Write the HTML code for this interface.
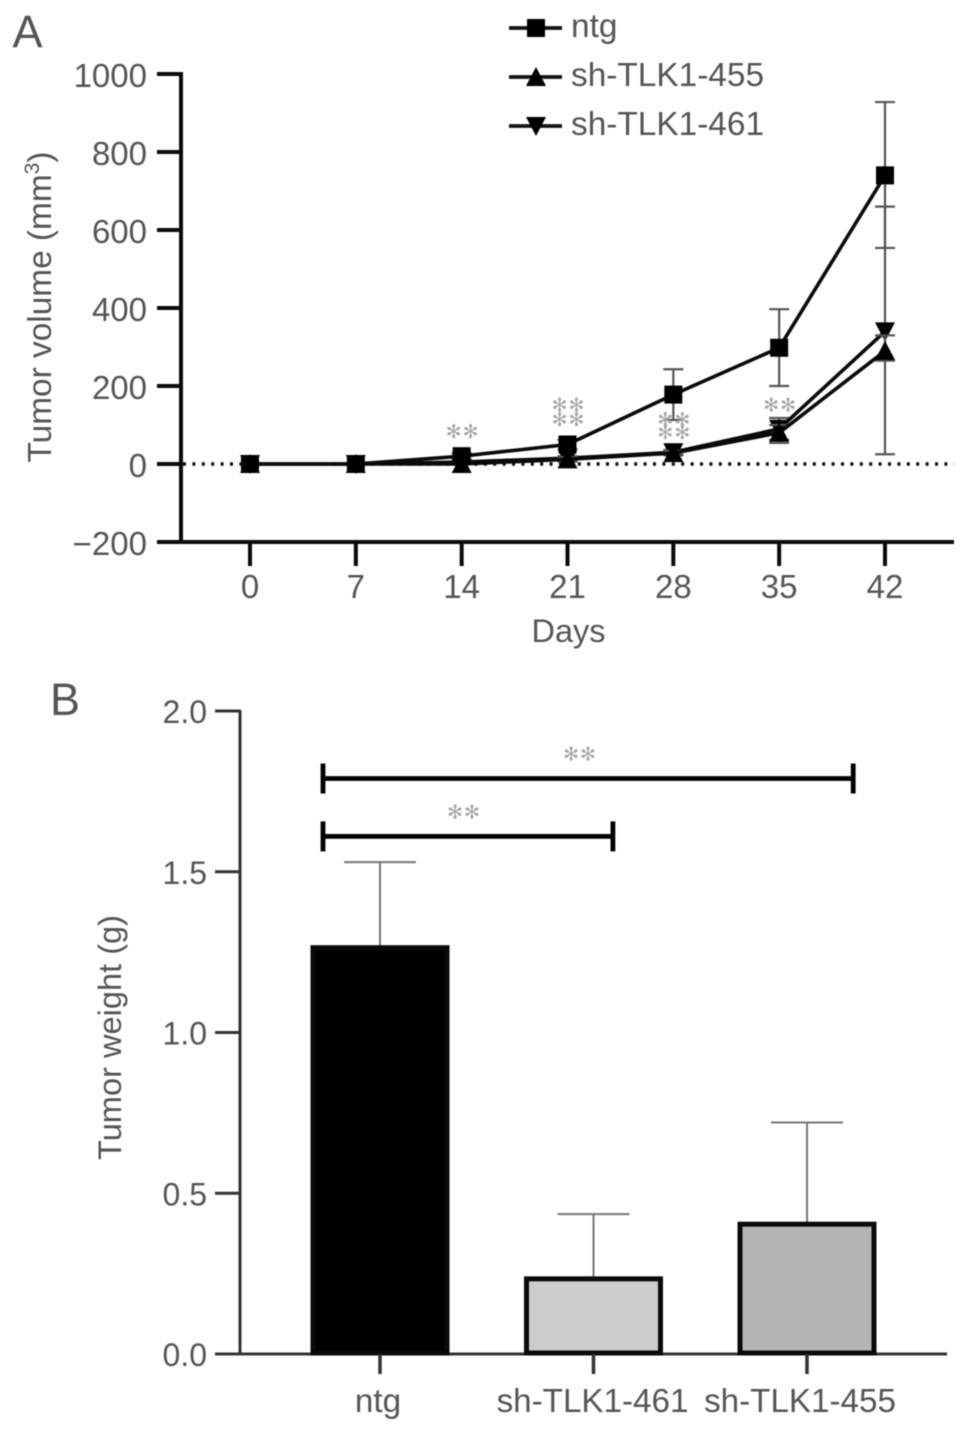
<!DOCTYPE html>
<html>
<head>
<meta charset="utf-8">
<style>
html,body{margin:0;padding:0;background:#fff;}
svg{display:block;filter:blur(0.55px);}
text{font-family:"Liberation Sans",sans-serif;fill:#555555;}
.star{font-family:"DejaVu Sans",sans-serif;fill:#a6a6a6;}
</style>
</head>
<body>
<svg id="chart" xmlns="http://www.w3.org/2000/svg" width="969" height="1433" viewBox="0 0 969 1433">
  <text x="12.5" y="47" font-size="45">A</text>
  <text x="50" y="715" font-size="45">B</text>
  <text transform="translate(51,307) rotate(-90)" text-anchor="middle" font-size="33.4">Tumor volume (mm<tspan font-size="21" dy="-12">3</tspan><tspan dy="12">)</tspan></text>
  <text x="568.5" y="642" text-anchor="middle" font-size="32.5">Days</text>
  <text transform="translate(121,1037.5) rotate(-90)" text-anchor="middle" font-size="32.6">Tumor weight (g)</text>
  <g id="panelA"></g>
  <g id="panelB"></g>
</svg>
<script>
// Panel A data
const days = [0, 7, 14, 21, 28, 35, 42];
const volumeTicks = [-200, 0, 200, 400, 600, 800, 1000];
const ntgMean = [0, 0, 20, 50, 178, 298, 740];
const ntgUpper = [0, 0, 28, 62, 243, 397, 928];
const ntgLower = [0, 0, 12, 38, 113, 200, 554];
const sh455Mean = [0, 0, 0, 12, 28, 80, 290];
const sh455Upper = [0, 0, 4, 18, 34, 100, 330];
const sh455Lower = [0, 0, 0, 6, 22, 54, 265];
const sh461Mean = [0, 0, 5, 15, 30, 90, 340];
const sh461Upper = [0, 0, 9, 20, 36, 118, 660];
const sh461Lower = [0, 0, 1, 10, 24, 62, 25];
const seriesNames = ['ntg', 'sh-TLK1-455', 'sh-TLK1-461'];
const volumeStarDays = [14, 21, 21, 28, 28, 35];
const volumeStarValues = [85, 152, 116, 116, 82, 152];

// Panel B data
const groups = ['ntg', 'sh-TLK1-461', 'sh-TLK1-455'];
const weights = [1.27, 0.24, 0.41];
const weightErrTop = [1.53, 0.435, 0.72];
const weightTicks = ['0.0', '0.5', '1.0', '1.5', '2.0'];
const barFills = ['#000000', '#cccccc', '#b4b4b4'];
const bracketLevels = [1.79, 1.61];
const bracketEnds = [2.2, 1.203];

const NS = 'http://www.w3.org/2000/svg';
const panelA = document.getElementById('panelA');
const panelB = document.getElementById('panelB');

function make(parent, tag, props, content) {
  const e = document.createElementNS(NS, tag);
  for (const k in props) e.setAttribute(k, props[k]);
  if (content !== undefined) e.textContent = content;
  parent.appendChild(e);
  return e;
}

const xA = d => 250 + (d / 42) * 635;
const yA = v => 464 - v * 0.39;
const yB = v => 1354 - v * 321.5;
const xB = i => 380 + i * 213.5;
const xBracket = u => 323 + u * 241;
const labelShiftB = [-2, -1, -7];

// Panel A axes
let el;
el = make(panelA, 'line', {x1: 179, x2: 954, y1: yA(-200), y2: yA(-200), stroke: '#0a0a0a', 'stroke-width': 4});


el = make(panelA, 'line', {x1: 181, x2: 181, y1: yA(1000) - 2, y2: yA(-200) + 2, stroke: '#0a0a0a', 'stroke-width': 4});


el = make(panelA, 'line', {x1: 183, x2: 954, y1: yA(0), y2: yA(0), stroke: '#111', 'stroke-width': 3.4, 'stroke-dasharray': '3 6.4'});



volumeTicks.forEach(t => {
  const tick = make(panelA, 'line', {x1: 157, x2: 181, y1: yA(t), y2: yA(t), stroke: '#0a0a0a', 'stroke-width': 4});
  
  
  const label = make(panelA, 'text', {x: 147, y: yA(t) + 13, 'text-anchor': 'end', 'font-size': 33}, t < 0 ? '\u2212' + (-t) : String(t));
  
  
});

days.forEach(d => {
  const tick = make(panelA, 'line', {x1: xA(d), x2: xA(d), y1: yA(-200), y2: 566, stroke: '#0a0a0a', 'stroke-width': 4});
  
  
  const label = make(panelA, 'text', {x: xA(d), y: 598, 'text-anchor': 'middle', 'font-size': 33}, String(d));
  
  
});

function marker(parent, kind, cx, cy) {
  if (kind === 0) {
    return make(parent, 'rect', {x: cx - 9, y: cy - 9, width: 18, height: 18, fill: '#000'});
  }
  if (kind === 1) {
    return make(parent, 'polygon', {points: [cx - 10, cy + 9, cx + 10, cy + 9, cx, cy - 10].join(' '), fill: '#000'});
  }
  return make(parent, 'polygon', {points: [cx - 10, cy - 9, cx + 10, cy - 9, cx, cy + 10].join(' '), fill: '#000'});
}

const allMeans = [sh461Mean, sh455Mean, ntgMean];
const allUpper = [sh461Upper, sh455Upper, ntgUpper];
const allLower = [sh461Lower, sh455Lower, ntgLower];
const kinds = [2, 1, 0];

allMeans.forEach((means, s) => {
  const g = make(panelA, 'g', {});
  
  
  days.forEach((d, i) => {
    if (allUpper[s][i] === allLower[s][i]) return;
    const x = xA(d);
    const yU = yA(allUpper[s][i]);
    const yL = yA(allLower[s][i]);
    make(g, 'path', {
      d: 'M' + x + ' ' + yU + 'V' + yL + 'M' + (x - 10) + ' ' + yU + 'H' + (x + 10) + 'M' + (x - 10) + ' ' + yL + 'H' + (x + 10),
      fill: 'none', stroke: '#555', 'stroke-width': 2.2
    });
  });
  make(g, 'polyline', {
    points: days.map((d, i) => xA(d) + ',' + yA(means[i])).join(' '),
    fill: 'none', stroke: '#0a0a0a', 'stroke-width': 3.6
  });
  days.forEach((d, i) => marker(g, kinds[s], xA(d), yA(means[i])));
});

volumeStarDays.forEach((d, i) => {
  const st = make(panelA, 'text', {class: 'star', x: xA(d) + 1, y: yA(volumeStarValues[i]) + 7, 'text-anchor': 'middle', 'font-size': 19, 'letter-spacing': 1}, '\u273B\u273B');
  
  
});

// Legend
const legendOrder = [0, 1, 2];
legendOrder.forEach((k, i) => {
  const ly = 28 + i * 49;
  const g = make(panelA, 'g', {});
  
  
  make(g, 'line', {x1: 509, x2: 562, y1: ly, y2: ly, stroke: '#111', 'stroke-width': 3.8});
  marker(g, k, 536, ly);
  make(g, 'text', {x: 571, y: ly + 9, 'font-size': 33.4}, seriesNames[k]);
});

// Panel B axes
el = make(panelB, 'line', {x1: 215, x2: 947, y1: yB(0), y2: yB(0), stroke: '#333', 'stroke-width': 3});


el = make(panelB, 'line', {x1: 240, x2: 240, y1: yB(2) - 1, y2: yB(0), stroke: '#333', 'stroke-width': 3});



weightTicks.forEach(t => {
  const v = parseFloat(t);
  const tick = make(panelB, 'line', {x1: 215, x2: 240, y1: yB(v), y2: yB(v), stroke: '#333', 'stroke-width': 3});
  
  
  const label = make(panelB, 'text', {x: 207, y: yB(v) + 12, 'text-anchor': 'end', 'font-size': 32}, t);
  
  
});

groups.forEach((name, i) => {
  const cx = xB(i);
  const top = yB(weights[i]);
  const err = make(panelB, 'path', {
    d: 'M' + cx + ' ' + top + 'V' + yB(weightErrTop[i]) + 'M' + (cx - 36) + ' ' + yB(weightErrTop[i]) + 'H' + (cx + 36),
    fill: 'none', stroke: '#777', 'stroke-width': 2
  });
  
  
  const bar = make(panelB, 'rect', {
    x: cx - 67, y: top + 2, width: 134, height: yB(0) - top - 3,
    fill: barFills[i], stroke: '#0a0a0a', 'stroke-width': 5
  });
  
  
  const tick = make(panelB, 'line', {x1: cx, x2: cx, y1: yB(0), y2: 1374, stroke: '#333', 'stroke-width': 3.5});
  
  
  const label = make(panelB, 'text', {x: cx + labelShiftB[i], y: 1412, 'text-anchor': 'middle', 'font-size': 33.2}, name);
  
  
});

// Significance brackets
bracketLevels.forEach((lvl, i) => {
  const by = yB(lvl);
  const x2 = xBracket(bracketEnds[i]);
  const g = make(panelB, 'g', {});
  
  
  make(g, 'path', {
    d: 'M' + xBracket(0) + ' ' + by + 'H' + x2 + 'M' + xBracket(0) + ' ' + (by - 15) + 'V' + (by + 15) + 'M' + x2 + ' ' + (by - 15) + 'V' + (by + 15),
    fill: 'none', stroke: '#000', 'stroke-width': 4.8
  });
  make(g, 'text', {class: 'star', x: i === 0 ? 580 : 464, y: by - 18, 'text-anchor': 'middle', 'font-size': 19, 'letter-spacing': 1}, '\u273B\u273B');
});
</script>
</body>
</html>
